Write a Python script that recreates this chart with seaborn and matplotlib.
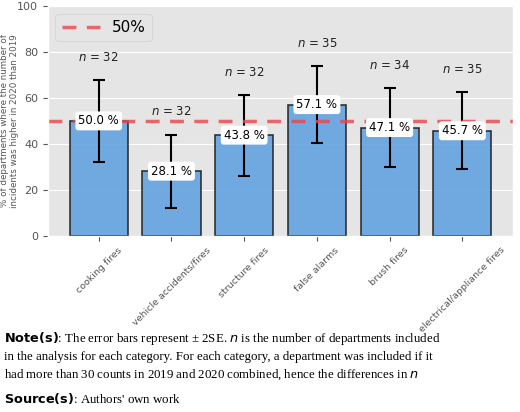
import matplotlib
matplotlib.use("Agg")
import matplotlib.pyplot as plt
import seaborn as sns
import pandas as pd

categories = ["cooking fires", "vehicle accidents/fires", "structure fires",
              "false alarms", "brush fires", "electrical/appliance fires"]
values = [50.0, 28.1, 43.8, 57.1, 47.1, 45.7]
lower = [32.3, 12.2, 26.2, 40.4, 29.9, 28.9]
upper = [67.7, 44.0, 61.3, 73.8, 64.3, 62.6]
ns = [32, 32, 32, 35, 34, 35]

plt.style.use("ggplot")
fig = plt.figure(figsize=(5.2, 4.12), dpi=100)
ax = fig.add_axes([0.092, 0.428, 0.895, 0.557])
df = pd.DataFrame({"cat": categories, "val": values})
sns.barplot(data=df, x="cat", y="val", ax=ax, color="#4ea3f5", edgecolor="#222222",
            linewidth=1.2, alpha=0.9, width=0.8)
for i, (v, lo, hi, n) in enumerate(zip(values, lower, upper, ns)):
    ax.errorbar(i, v, yerr=[[v - lo], [hi - v]], color="black", capsize=4, lw=1.5, capthick=1.5)
    ax.text(i, v, f"{v:.1f} %", ha="center", va="center", fontsize=8.5,
            bbox=dict(boxstyle="round,pad=0.25", fc="white", ec="none"))
    ax.text(i, hi + 10, f"$n$ = {n}", ha="center", va="center", fontsize=8.5, color="#222222")
ax.axhline(50, color="#e8474d", ls="--", lw=2.5, alpha=0.8, label="50%", dashes=(4, 3))
ax.set_ylim(0, 100)
ax.set_xlim(-0.7, 5.7)
ax.set_xlabel("")
ax.set_ylabel("% of departments where the number of\nincidents was higher in 2020 than 2019",
              fontsize=6.3, color="#555555")
ax.yaxis.set_label_coords(-0.062, 0.5)
ax.tick_params(axis="y", labelsize=8)
ax.tick_params(axis="x", labelsize=6.8)
for t in ax.get_xticklabels():
    t.set_rotation(45); t.set_ha("center")
ax.legend(loc="upper left", fontsize=11, handlelength=2.5)

fig.text(0.008, 0.2, r"$\bf{Note(s)}$: The error bars represent ± 2SE. $n$ is the number of departments included"
         "\nin the analysis for each category. For each category, a department was included if it\n"
         r"had more than 30 counts in 2019 and 2020 combined, hence the differences in $n$",
         fontsize=9.3, family="Liberation Serif", va="top", linespacing=1.45)
fig.text(0.008, 0.022, r"$\bf{Source(s)}$: Authors' own work", fontsize=9.3, family="Liberation Serif")
fig.savefig("out.png")
